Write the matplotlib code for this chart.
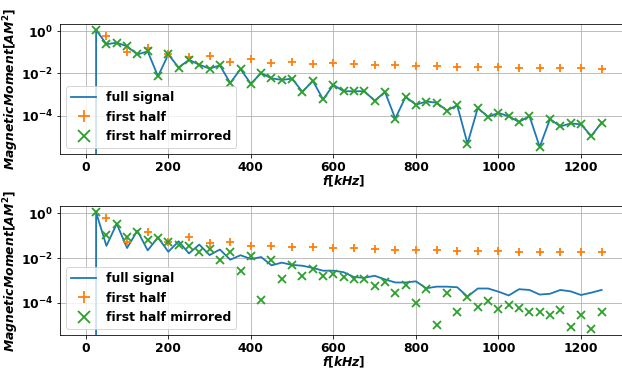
import numpy as np
import matplotlib
matplotlib.use("Agg")
import matplotlib.pyplot as plt
from matplotlib.ticker import FixedLocator, NullLocator

FS = 12.4
plt.rcParams['font.family'] = ['DejaVu Sans']
plt.rcParams['font.weight'] = 'bold'
plt.rcParams['font.size'] = FS
plt.rcParams['mathtext.fontset'] = 'custom'
plt.rcParams['mathtext.it'] = 'DejaVu Sans:italic:bold'
plt.rcParams['mathtext.rm'] = 'DejaVu Sans:bold'
plt.rcParams['mathtext.bf'] = 'DejaVu Sans:bold'

# frequency grids [kHz]
f_full = np.arange(0, 1251, 25)
f_half = np.arange(50, 1251, 50)
f_mirr = np.arange(25, 1251, 25)

# ---- top panel ----
top_full = [0, 1.12, 0.24, 0.28, 0.19, 0.079, 0.11, 0.0074, 0.079, 0.019,
            0.044, 0.026, 0.017, 0.024, 0.0036, 0.016, 0.0033, 0.0105, 0.0059, 0.005,
            0.0057, 0.00136, 0.0046, 0.0006, 0.0029, 0.00146, 0.00146, 0.00146, 0.00052, 0.00136,
            7.5e-5, 0.0008, 0.00034, 0.00048, 0.00042, 0.00018, 0.00032, 5e-6, 0.00024, 9e-5,
            0.00014, 9.6e-5, 5.2e-5, 1e-4, 3.5e-6, 7.2e-5, 3.2e-5, 4.5e-5, 4e-5, 1.15e-5,
            4.9e-5]
top_half = [0.58, 0.105, 0.155, 0.082, 0.059, 0.068, 0.036, 0.048, 0.031, 0.036,
            0.029, 0.030, 0.027, 0.025, 0.025, 0.023, 0.022, 0.020, 0.0198, 0.020,
            0.0187, 0.0187, 0.0183, 0.0174, 0.017]
top_mirr = [1.12, 0.24, 0.28, 0.19, 0.079, 0.11, 0.0074, 0.079, 0.019,
            0.044, 0.026, 0.017, 0.024, 0.0036, 0.016, 0.0033, 0.0105, 0.0059, 0.005,
            0.0057, 0.00136, 0.0046, 0.0006, 0.0029, 0.00146, 0.00146, 0.00146, 0.00052, 0.00136,
            7.5e-5, 0.0008, 0.00034, 0.00048, 0.00042, 0.00018, 0.00032, 5e-6, 0.00024, 9e-5,
            0.00014, 9.6e-5, 5.2e-5, 1e-4, 3.5e-6, 7.2e-5, 3.2e-5, 4.5e-5, 4e-5, 1.15e-5,
            4.9e-5]

# ---- bottom panel ----
bot_full = [0, 1.1, 0.035, 0.34, 0.028, 0.167, 0.022, 0.083, 0.019, 0.056,
            0.016, 0.04, 0.0135, 0.024, 0.0084, 0.0133, 0.009, 0.011, 0.0047, 0.0062,
            0.0049, 0.0045, 0.0036, 0.0027, 0.0027, 0.0023, 0.0014, 0.0013, 0.0016, 0.0011,
            0.0008, 0.0008, 0.0009, 0.00044, 0.00052, 0.00052, 0.00049, 0.000186, 0.00043, 0.00043,
            0.00031, 0.00021, 0.0004, 0.00037, 0.00023, 0.00025, 0.00037, 0.00032, 0.00022, 0.00028,
            0.00037]
bot_half = [0.6, 0.054, 0.15, 0.054, 0.085, 0.045, 0.05, 0.036, 0.036, 0.032,
            0.030, 0.028, 0.027, 0.025, 0.023, 0.0225, 0.022, 0.0205, 0.0205, 0.020,
            0.019, 0.019, 0.019, 0.019, 0.019]
bot_mirr = [1.1, 0.107, 0.33, 0.083, 0.143, 0.062, 0.076, 0.05, 0.037, 0.033,
            0.018, 0.025, 0.008, 0.018, 0.0027, 0.0123, 0.00013, 0.0081, 0.0012, 0.0049,
            0.0016, 0.0033, 0.0016, 0.002, 0.0014, 0.0011, 0.0011, 0.00058, 0.00085, 0.00026,
            0.0006, 0.0001, 0.00043, 1.0e-5, 0.00028, 3.8e-5, 0.000186, 6.6e-5, 0.00012, 5.4e-5,
            7.6e-5, 5.8e-5, 3.8e-5, 3.8e-5, 2.7e-5, 4.7e-5, 8.5e-6, 2.7e-5, 6.5e-6, 3.8e-5]

labels = ['full signal', 'first half', 'first half mirrored']
xticks = [0, 200, 400, 600, 800, 1000, 1200]
yticks = [1e0, 1e-2, 1e-4]

W, H = 622, 369
fig = plt.figure(figsize=(W / 72, H / 72), dpi=72)
AW = 567.4
ax1 = fig.add_axes([60 / W, 1 - 154 / H, AW / W, 130 / H])
ax2 = fig.add_axes([60 / W, 1 - 335 / H, AW / W, 129 / H])

panels = [(ax1, top_full, top_half, top_mirr, (10 ** -5.79, 10 ** 0.33), 130),
          (ax2, bot_full, bot_half, bot_mirr, (10 ** -5.45, 10 ** 0.33), 129)]

for ax, full, half, mirr, ylim, ah in panels:
    ax.plot(f_full, full, color='C0', lw=1.8, label=labels[0])
    ax.plot(f_half, half, '+', color='C1', ms=8, mew=1.8, label=labels[1])
    ax.plot(f_mirr, mirr, 'x', color='C2', ms=8, mew=1.8, label=labels[2])
    ax.set_yscale('log')
    ax.set_xlim(-62.5, 1312.5)
    ax.set_ylim(*ylim)
    ax.xaxis.set_major_locator(FixedLocator(xticks))
    ax.yaxis.set_major_locator(FixedLocator(yticks))
    ax.yaxis.set_minor_locator(NullLocator())
    ax.grid(True)
    ax.set_ylabel(r'$MagneticMoment[AM^2]$')
    ax.yaxis.set_label_coords((21 - 60) / AW, 0.5)
    ax.set_xlabel(r'$f[kHz]$')
    ax.xaxis.set_label_coords(0.5, -19.5 / ah)
    ax.legend(loc='lower left', markerscale=1.5, fontsize=FS)
    for t in ax.get_xticklabels() + ax.get_yticklabels():
        t.set_fontweight('bold')

fig.savefig('out.png', dpi=72)
